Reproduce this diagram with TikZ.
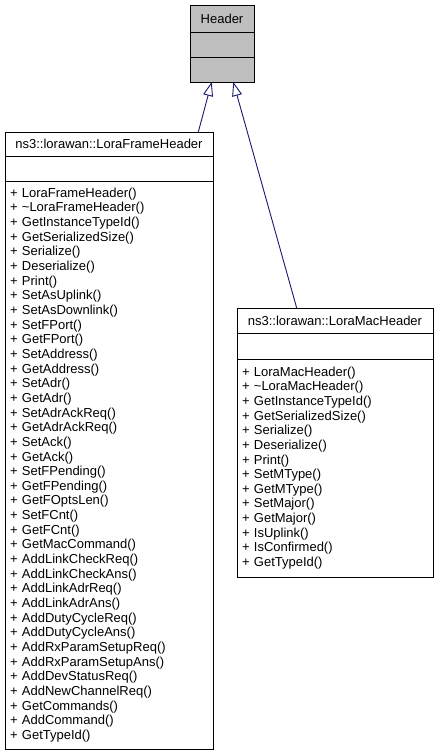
\documentclass[tikz,border=0pt]{standalone}
\usepackage{fontspec}
\setmainfont{Liberation Sans}
\usetikzlibrary{arrows.meta, positioning}
\definecolor{navy}{HTML}{191970}
\definecolor{basegray}{HTML}{BFBFBF}
\tikzstyle{inh}=[-{Triangle[open,length=14pt,width=10pt]},line width=0.9pt,color=navy]
\tikzstyle{cls}=[draw=black,line width=1pt,outer sep=0pt,inner sep=0pt,minimum height=25pt]
\tikzstyle{members}=[cls,align=left,inner xsep=5pt]

\begin{document}
\begin{tikzpicture}[x=1pt,y=-1pt,every node/.style={font=\fontsize{13}{14.65}\selectfont}]
  \useasboundingbox (0,0) rectangle (439,756);
  % base class
  \node[cls,fill=basegray,minimum width=64pt,minimum height=27pt,anchor=north west] (hdr) at (190,5) {Header};
  \node[cls,fill=basegray,minimum width=64pt,below=0pt of hdr] (hdrattr) {};
  \node[cls,fill=basegray,minimum width=64pt,below=0pt of hdrattr] (hdrops) {};
  % frame header
  \node[cls,fill=white,minimum width=208pt,minimum height=24pt,anchor=north west] (fhd) at (5,132) {ns3::lorawan::LoraFrameHeader};
  \node[cls,fill=white,minimum width=208pt,below=0pt of fhd] (fhdattr) {};
  \node[members,fill=white,text width=198pt,minimum height=568pt,below=0pt of fhdattr] (fhdops) {%
    + LoraFrameHeader()\\ + \textasciitilde LoraFrameHeader()\\ + GetInstanceTypeId()\\
    + GetSerializedSize()\\ + Serialize()\\ + Deserialize()\\ + Print()\\
    + SetAsUplink()\\ + SetAsDownlink()\\ + SetFPort()\\ + GetFPort()\\
    + SetAddress()\\ + GetAddress()\\ + SetAdr()\\ + GetAdr()\\
    + SetAdrAckReq()\\ + GetAdrAckReq()\\ + SetAck()\\ + GetAck()\\
    + SetFPending()\\ + GetFPending()\\ + GetFOptsLen()\\ + SetFCnt()\\
    + GetFCnt()\\ + GetMacCommand()\\ + AddLinkCheckReq()\\ + AddLinkCheckAns()\\
    + AddLinkAdrReq()\\ + AddLinkAdrAns()\\ + AddDutyCycleReq()\\ + AddDutyCycleAns()\\
    + AddRxParamSetupReq()\\ + AddRxParamSetupAns()\\ + AddDevStatusReq()\\
    + AddNewChannelReq()\\ + GetCommands()\\ + AddCommand()\\ + GetTypeId()};
  % mac header
  \node[cls,fill=white,minimum width=196pt,anchor=north west] (mhd) at (237,308) {ns3::lorawan::LoraMacHeader};
  \node[cls,fill=white,minimum width=196pt,minimum height=26pt,below=0pt of mhd] (mhdattr) {};
  \node[members,fill=white,text width=186pt,minimum height=218pt,below=0pt of mhdattr] (mhdops) {%
    + LoraMacHeader()\\ + \textasciitilde LoraMacHeader()\\ + GetInstanceTypeId()\\
    + GetSerializedSize()\\ + Serialize()\\ + Deserialize()\\ + Print()\\
    + SetMType()\\ + GetMType()\\ + SetMajor()\\ + GetMajor()\\
    + IsUplink()\\ + IsConfirmed()\\ + GetTypeId()};
  % inheritance
  \draw[inh] ([xshift=89.3pt]fhd.north) -- ([xshift=-10.3pt]hdrops.south);
  \draw[inh] ([xshift=-38.3pt]mhd.north) -- ([xshift=11.3pt]hdrops.south);
\end{tikzpicture}
\end{document}
